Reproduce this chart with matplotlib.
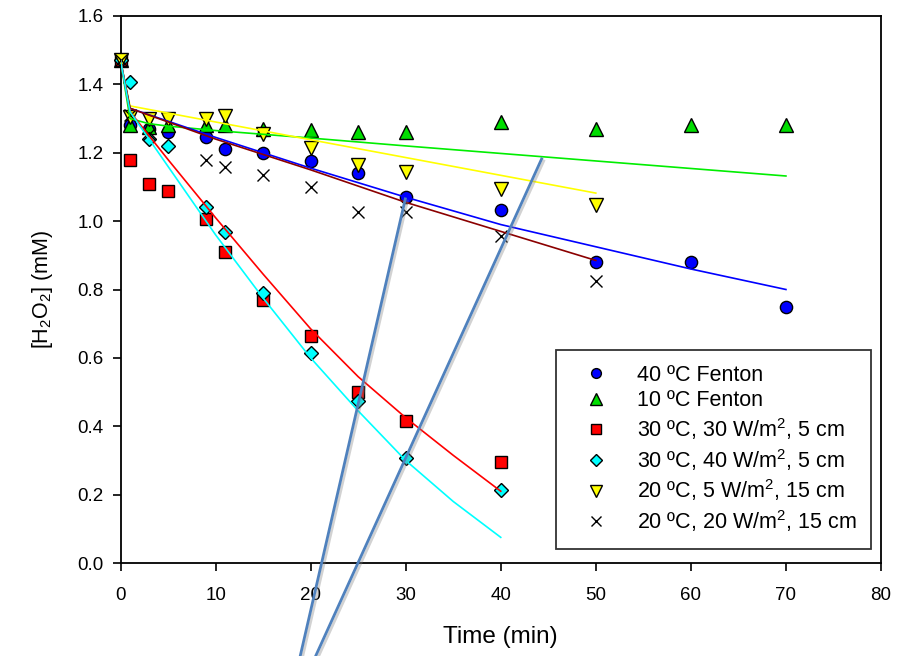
import matplotlib
matplotlib.use("Agg")
import matplotlib.pyplot as plt
import matplotlib.patheffects as pe

plt.rcParams['font.family'] = ['Liberation Sans', 'DejaVu Sans']
plt.rcParams['mathtext.fontset'] = 'custom'
plt.rcParams['mathtext.rm'] = 'Liberation Sans'
plt.rcParams['mathtext.it'] = 'Liberation Sans:italic'
plt.rcParams['mathtext.bf'] = 'Liberation Sans:bold'

# ---- measured data ----
t_blue = [0, 1, 3, 5, 9, 11, 15, 20, 25, 30, 40, 50, 60, 70]
c_blue = [1.47, 1.28, 1.27, 1.26, 1.245, 1.21, 1.199, 1.176, 1.14, 1.07, 1.032, 0.88, 0.88, 0.75]

t_green = [0, 1, 3, 5, 9, 11, 15, 20, 25, 30, 40, 50, 60, 70]
c_green = [1.47, 1.28, 1.275, 1.28, 1.28, 1.28, 1.27, 1.267, 1.26, 1.26, 1.29, 1.27, 1.28, 1.28]

t_red = [0, 1, 3, 5, 9, 11, 15, 20, 25, 30, 40]
c_red = [1.47, 1.18, 1.11, 1.088, 1.006, 0.91, 0.77, 0.664, 0.499, 0.414, 0.296]

t_cyan = [0, 1, 3, 5, 9, 11, 15, 20, 25, 30, 40]
c_cyan = [1.47, 1.408, 1.24, 1.22, 1.04, 0.968, 0.79, 0.614, 0.475, 0.306, 0.214]

t_yellow = [0, 1, 3, 5, 9, 11, 15, 20, 25, 30, 40, 50]
c_yellow = [1.47, 1.305, 1.30, 1.30, 1.30, 1.308, 1.255, 1.215, 1.165, 1.145, 1.095, 1.048]

t_black = [0, 1, 3, 9, 11, 15, 20, 25, 30, 40, 50]
c_black = [1.47, 1.31, 1.255, 1.18, 1.158, 1.135, 1.10, 1.026, 1.026, 0.957, 0.824]

# ---- fitted curves ----
ft_blue = [0, 1, 10, 20, 30, 40, 50, 60, 70]
fc_blue = [1.47, 1.33, 1.245, 1.155, 1.07, 0.99, 0.925, 0.86, 0.80]

ft_green = [0, 1, 3, 5, 10, 20, 30, 40, 50, 60, 70]
fc_green = [1.47, 1.30, 1.285, 1.278, 1.265, 1.243, 1.22, 1.198, 1.176, 1.154, 1.132]

ft_red = [0, 1, 5, 10, 15, 20, 25, 30, 35, 40]
fc_red = [1.47, 1.32, 1.18, 1.01, 0.845, 0.685, 0.545, 0.425, 0.315, 0.21]

ft_cyan = [0, 1, 5, 10, 15, 20, 25, 30, 35, 40]
fc_cyan = [1.47, 1.32, 1.16, 0.96, 0.775, 0.60, 0.445, 0.30, 0.18, 0.075]

ft_yellow = [0, 1, 10, 20, 30, 40, 50]
fc_yellow = [1.47, 1.337, 1.29, 1.238, 1.186, 1.134, 1.082]

ft_brown = [0, 1, 10, 20, 30, 40, 50]
fc_brown = [1.47, 1.33, 1.24, 1.15, 1.055, 0.97, 0.885]

# ---- stray annotation lines (data coords) ----
ann1_t = [18.84, 29.96]
ann1_c = [-0.28, 1.065]
ann2_t = [20.4, 44.3]
ann2_c = [-0.28, 1.182]

labels = ['40 ºC Fenton', '10 ºC Fenton',
          '30 ºC, 30 W/m$^2$, 5 cm', '30 ºC, 40 W/m$^2$, 5 cm',
          '20 ºC, 5 W/m$^2$, 15 cm', '20 ºC, 20 W/m$^2$, 15 cm']

fig = plt.figure(figsize=(9.02, 6.56), dpi=100)
ax = fig.add_axes([120.5/902, 1-563/656, (881-120.5)/902, (563-16)/656])

mk = dict(linestyle='none', markeredgecolor='black', markeredgewidth=1.0, clip_on=False, zorder=3)
h1, = ax.plot(t_blue, c_blue, marker='o', markersize=8.8, markerfacecolor='#0000ff', **mk)
h2, = ax.plot(t_green, c_green, marker='^', markersize=10, markerfacecolor='#00dd00', **mk)
h3, = ax.plot(t_red, c_red, marker='s', markersize=8.4, markerfacecolor='#ff0000', **mk)
h4, = ax.plot(t_cyan, c_cyan, marker='D', markersize=7.6, markerfacecolor='#00ffff', **mk)
h5, = ax.plot(t_yellow, c_yellow, marker='v', markersize=10, markerfacecolor='#ffff00', **mk)
h6, = ax.plot(t_black, c_black, marker='x', markersize=8.5, color='black',
              linestyle='none', markeredgewidth=1.0, clip_on=False, zorder=3)

lw = 1.2
ax.plot(ft_green, fc_green, color='#00ee00', lw=lw, zorder=4)
ax.plot(ft_yellow, fc_yellow, color='#ffff00', lw=lw, zorder=4)
ax.plot(ft_blue, fc_blue, color='#0000ff', lw=lw, zorder=4)
ax.plot(ft_brown, fc_brown, color='#8b0000', lw=lw, zorder=4)
ax.plot(ft_red, fc_red, color='#ff0000', lw=lw, zorder=4)
ax.plot(ft_cyan, fc_cyan, color='#00ffff', lw=lw, zorder=4)

shadow = [pe.SimpleLineShadow(offset=(1.5, -1.5), shadow_color='gray', alpha=0.35), pe.Normal()]
for at, ac in ((ann1_t, ann1_c), (ann2_t, ann2_c)):
    ax.plot(at, ac, color='#4f81bd', lw=2.0, clip_on=False, zorder=6, path_effects=shadow)

ax.set_xlim(0, 80)
ax.set_ylim(0, 1.6)
ax.set_xticks(range(0, 81, 10))
ax.set_yticks([0.0, 0.2, 0.4, 0.6, 0.8, 1.0, 1.2, 1.4, 1.6])
ax.set_yticklabels(['%.1f' % v for v in [0.0, 0.2, 0.4, 0.6, 0.8, 1.0, 1.2, 1.4, 1.6]])
ax.tick_params(axis='both', direction='out', length=6, width=1.2, labelsize=13.5, colors='black')
ax.tick_params(axis='x', pad=11)
ax.tick_params(axis='y', pad=6)
for s in ax.spines.values():
    s.set_linewidth(1.3)
    s.set_color('black')

ax.set_xlabel('Time (min)', fontsize=17.5, labelpad=16)
ax.set_ylabel('[H$_2$O$_2$] (mM)', fontsize=15.5, labelpad=16)

leg = ax.legend([h1, h2, h3, h4, h5, h6], labels, loc='lower right',
                bbox_to_anchor=(0.987, 0.0256), fontsize=15.5, frameon=True, fancybox=False,
                edgecolor='black', borderpad=0.7, labelspacing=0.22, handletextpad=0.72,
                borderaxespad=0, handlelength=2.3, markerscale=0.8)
leg.get_frame().set_linewidth(1.3)
leg.set_zorder(7)

fig.savefig('out.png', dpi=100)
